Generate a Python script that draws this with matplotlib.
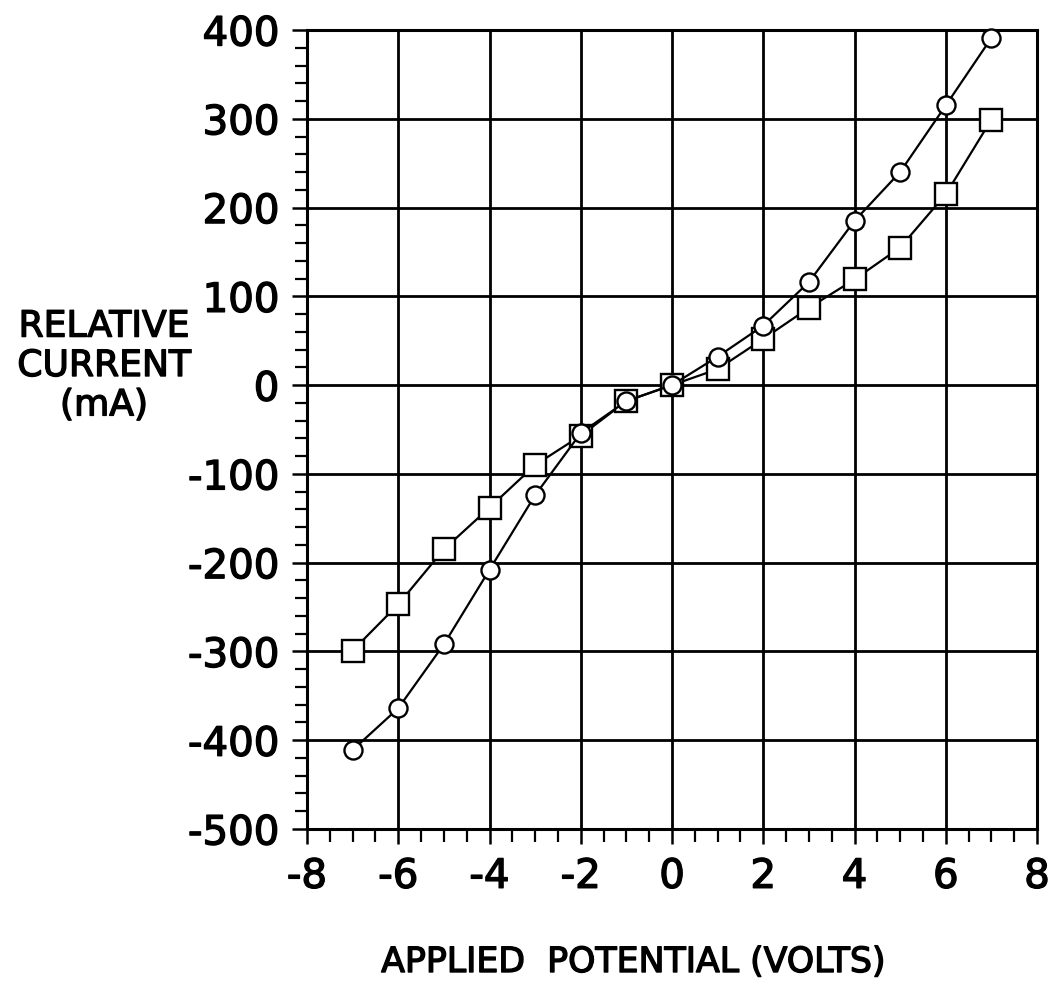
import matplotlib
matplotlib.use("Agg")
import matplotlib.pyplot as plt
import matplotlib.patheffects as pe
from matplotlib.ticker import MultipleLocator

# Data
voltage = [-7, -6, -5, -4, -3, -2, -1, 0, 1, 2, 3, 4, 5, 6, 7]
current_circles = [-411, -364, -292, -208, -124, -54, -18, 0, 32, 67, 116, 185, 240, 315, 391]
current_squares = [-299, -247, -185, -138, -90, -57, -18, 0, 18, 52, 87, 119, 155, 215, 299]

x_ticks = [-8, -6, -4, -2, 0, 2, 4, 6, 8]
y_ticks = [-500, -400, -300, -200, -100, 0, 100, 200, 300, 400]

plt.rcParams['font.family'] = ['DejaVu Sans']
plt.rcParams['axes.unicode_minus'] = False

heavy = [pe.withStroke(linewidth=1.0, foreground='black')]

fig = plt.figure(figsize=(10.61, 9.84), dpi=100)
ax = fig.add_axes([307/1061, 1 - 829/984, (1037 - 307)/1061, (829 - 30)/984])

ax.set_xlim(-8, 8)
ax.set_ylim(-500, 400)
ax.set_xticks(x_ticks)
ax.set_yticks(y_ticks)
ax.set_xticklabels([str(v) for v in x_ticks])
ax.set_yticklabels([str(v) for v in y_ticks])
ax.xaxis.set_minor_locator(MultipleLocator(0.5))
ax.yaxis.set_minor_locator(MultipleLocator(20))

ax.grid(True, which='major', color='black', linewidth=2.0)
ax.set_axisbelow(True)
for s in ax.spines.values():
    s.set_linewidth(2.2)
    s.set_color('black')

ax.tick_params(which='major', direction='out', length=11, width=1.8, labelsize=29, pad=9)
ax.tick_params(which='minor', direction='out', length=9, width=1.6)
for lab in ax.get_xticklabels() + ax.get_yticklabels():
    lab.set_path_effects(heavy)

ax.plot(voltage, current_squares, color='black', linewidth=1.6, marker='s',
        markersize=15.5, markerfacecolor='white', markeredgecolor='black',
        markeredgewidth=1.7, zorder=3, clip_on=False)
ax.plot(voltage, current_circles, color='black', linewidth=1.6, marker='o',
        markersize=13, markerfacecolor='white', markeredgecolor='black',
        markeredgewidth=1.7, zorder=4, clip_on=False)

fig.text(104/1061, 1 - 366/984, "RELATIVE\nCURRENT\n(mA)", ha='center', va='center',
         multialignment='center', fontsize=26, linespacing=1.2, path_effects=heavy)
fig.text(633/1061, 1 - 962/984, "APPLIED  POTENTIAL (VOLTS)", ha='center', va='center',
         fontsize=25, path_effects=heavy)

fig.savefig("out.png", dpi=100)
